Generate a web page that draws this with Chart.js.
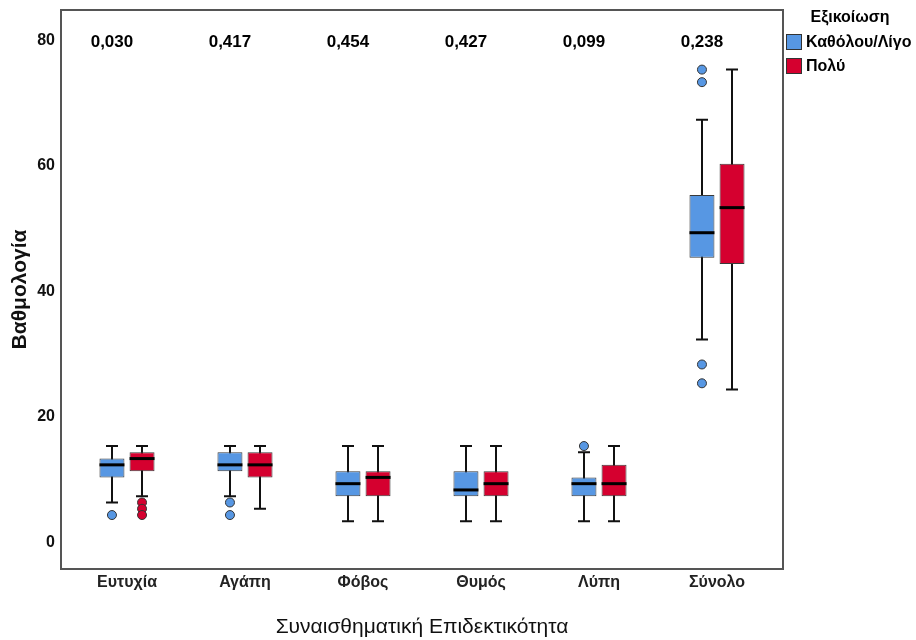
<!DOCTYPE html>
<html>
<head>
<meta charset="utf-8">
<script src="https://cdn.jsdelivr.net/npm/chart.js@4.4.1/dist/chart.umd.min.js"></script>
<style>
  html, body { margin: 0; padding: 0; background: #fff; }
  #wrap { width: 916px; height: 640px; }
</style>
</head>
<body>
<div id="wrap"><canvas id="myChart" width="916" height="640"></canvas></div>
<script>
const categories = ['Ευτυχία', 'Αγάπη', 'Φόβος', 'Θυμός', 'Λύπη', 'Σύνολο'];
const pValues = ['0,030', '0,417', '0,454', '0,427', '0,099', '0,238'];
const yTicks = [0, 20, 40, 60, 80];

// Καθόλου/Λίγο
const lowMin = [6, 7, 3, 3, 3, 32];
const lowQ1 = [10, 11, 7, 7, 7, 45];
const lowMedian = [12, 12, 9, 8, 9, 49];
const lowQ3 = [13, 14, 11, 11, 10, 55];
const lowMax = [15, 15, 15, 15, 14, 67];
const lowOutliers = [[4], [6, 4], [], [], [15], [75, 73, 28, 25]];

// Πολύ
const highMin = [7, 5, 3, 3, 3, 24];
const highQ1 = [11, 10, 7, 7, 7, 44];
const highMedian = [13, 12, 10, 9, 9, 53];
const highQ3 = [14, 14, 11, 11, 12, 60];
const highMax = [15, 15, 15, 15, 15, 75];
const highOutliers = [[6, 5, 4], [], [], [], [], []];

const blue = '#5797e3';
const red = '#d5002f';
const FONT = "'Liberation Sans', Arial, sans-serif";

const stats = [
  { min: lowMin, median: lowMedian, max: lowMax, out: lowOutliers, color: blue },
  { min: highMin, median: highMedian, max: highMax, out: highOutliers, color: red }
];

// whiskers behind the boxes, medians and outliers on top
const boxParts = {
  id: 'boxParts',
  beforeDatasetsDraw(chart) {
    const ctx = chart.ctx, y = chart.scales.y;
    ctx.save();
    ctx.strokeStyle = '#111';
    ctx.lineWidth = 2;
    stats.forEach((s, d) => {
      chart.getDatasetMeta(d).data.forEach((bar, i) => {
        const x = Math.round(bar.x);
        const top = y.getPixelForValue(s.max[i]);
        const bot = y.getPixelForValue(s.min[i]);
        ctx.beginPath();
        ctx.moveTo(x, top); ctx.lineTo(x, bot);
        ctx.moveTo(x - 6, top); ctx.lineTo(x + 6, top);
        ctx.moveTo(x - 6, bot); ctx.lineTo(x + 6, bot);
        ctx.stroke();
      });
    });
    ctx.restore();
  },
  afterDatasetsDraw(chart) {
    const ctx = chart.ctx, y = chart.scales.y;
    ctx.save();
    stats.forEach((s, d) => {
      chart.getDatasetMeta(d).data.forEach((bar, i) => {
        const x = bar.x, w = bar.width;
        const my = y.getPixelForValue(s.median[i]);
        ctx.strokeStyle = '#000';
        ctx.lineWidth = 3;
        ctx.beginPath();
        ctx.moveTo(x - w / 2, my); ctx.lineTo(x + w / 2, my);
        ctx.stroke();
        s.out[i].forEach(v => {
          ctx.beginPath();
          ctx.arc(x, y.getPixelForValue(v), 4.5, 0, Math.PI * 2);
          ctx.fillStyle = s.color;
          ctx.fill();
          ctx.lineWidth = 1;
          ctx.strokeStyle = '#333';
          ctx.stroke();
        });
      });
    });
    ctx.restore();
  },
  afterDraw(chart) {
    const ctx = chart.ctx, a = chart.chartArea;
    ctx.save();
    // plot frame
    ctx.strokeStyle = '#555';
    ctx.lineWidth = 2;
    ctx.strokeRect(a.left - 7, a.top, (a.right - a.left) + 14, a.bottom - a.top);
    // significance values above each group
    ctx.fillStyle = '#000';
    ctx.font = 'bold 17px ' + FONT;
    ctx.textAlign = 'center';
    ctx.textBaseline = 'middle';
    const meta = chart.getDatasetMeta(0);
    pValues.forEach((p, i) => ctx.fillText(p, meta.data[i].x, 42));
    // legend
    const lx = a.right + 10;
    ctx.font = 'bold 16px ' + FONT;
    ctx.fillText('Εξικοίωση', lx + 64, 18);
    ctx.textAlign = 'left';
    chart.data.datasets.forEach((ds, d) => {
      const cy = 42 + d * 24;
      ctx.fillStyle = ds.backgroundColor;
      ctx.fillRect(lx, cy - 8, 16, 16);
      ctx.strokeStyle = '#333';
      ctx.lineWidth = 1;
      ctx.strokeRect(lx + 0.5, cy - 7.5, 15, 15);
      ctx.fillStyle = '#000';
      ctx.fillText(ds.label, lx + 20, cy + 1);
    });
    ctx.restore();
  }
};

new Chart(document.getElementById('myChart'), {
  type: 'bar',
  data: {
    labels: categories,
    datasets: [
      {
        label: 'Καθόλου/Λίγο',
        data: categories.map((c, i) => [lowQ1[i], lowQ3[i]]),
        backgroundColor: blue,
        borderColor: '#3a3a3a',
        borderWidth: 1,
        borderSkipped: false
      },
      {
        label: 'Πολύ',
        data: categories.map((c, i) => [highQ1[i], highQ3[i]]),
        backgroundColor: red,
        borderColor: '#3a3a3a',
        borderWidth: 1,
        borderSkipped: false
      }
    ]
  },
  options: {
    responsive: false,
    animation: false,
    categoryPercentage: 0.51,
    barPercentage: 0.83,
    layout: { padding: { top: 10, right: 140, left: 0, bottom: 0 } },
    plugins: { legend: { display: false }, tooltip: { enabled: false } },
    scales: {
      x: {
        grid: { display: false, drawTicks: false },
        border: { display: false },
        ticks: { color: '#222', padding: 4, font: { family: FONT, size: 16, weight: 'bold' } },
        title: {
          display: true,
          text: 'Συναισθηματική Επιδεκτικότητα',
          color: '#111',
          font: { family: FONT, size: 21 },
          padding: { top: 0, bottom: 0 }
        },
        afterFit(scale) {
          scale.height = 71;
          scale.paddingLeft = 0;
          scale.paddingRight = 0;
        }
      },
      y: {
        min: -4.6,
        max: 84.5,
        grid: { display: false, drawTicks: false },
        border: { display: false },
        afterBuildTicks(scale) { scale.ticks = yTicks.map(v => ({ value: v })); },
        ticks: { color: '#111', padding: 13, labelOffset: 2, font: { family: FONT, size: 16, weight: 'bold' } },
        title: {
          display: true,
          text: 'Βαθμολογία',
          color: '#111',
          font: { family: FONT, size: 21, weight: 'bold' },
          padding: { top: 8, bottom: 0 }
        },
        afterFit(scale) {
          scale.width = 68;
          scale.paddingTop = 0;
          scale.paddingBottom = 0;
        }
      }
    }
  },
  plugins: [boxParts]
});
</script>
</body>
</html>
